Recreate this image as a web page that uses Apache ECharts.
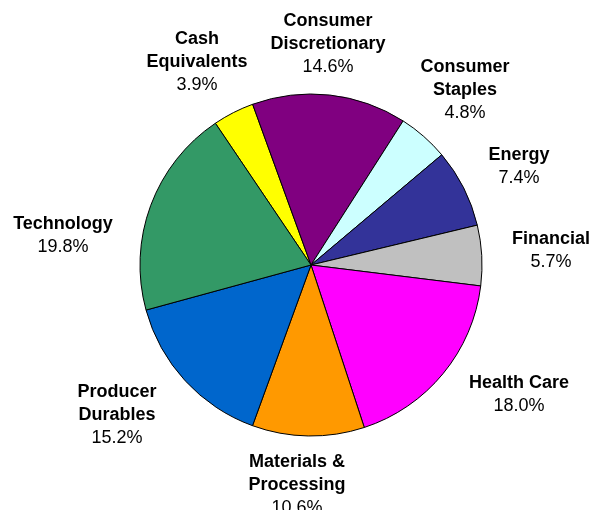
<!DOCTYPE html>
<html>
<head>
<meta charset="utf-8">
<title>Sector Weights</title>
<script src="https://cdn.jsdelivr.net/npm/echarts@6/dist/echarts.min.js"></script>
<style>
  html, body { margin: 0; padding: 0; background: #ffffff; }
  #chart { width: 593px; height: 510px; }
</style>
</head>
<body>
<div id="chart"></div>
<script>
// Sector allocation (percent of portfolio), listed clockwise
const sectors = [
  'Cash\nEquivalents',
  'Consumer\nDiscretionary',
  'Consumer\nStaples',
  'Energy',
  'Financial',
  'Health Care',
  'Materials &\nProcessing',
  'Producer\nDurables',
  'Technology'
];
const weights = [3.9, 14.6, 4.8, 7.4, 5.7, 18.0, 10.6, 15.2, 19.8];
const sliceColors = [
  '#FFFF00', '#800080', '#CCFFFF', '#333399', '#C0C0C0',
  '#FF00FF', '#FF9900', '#0066CC', '#339966'
];
// Label block centres, as offsets from the pie centre
const labelOffset = [
  [-114, -203], [17, -221], [154, -175], [208, -98], [240, -14],
  [208, 130], [-14, 220], [-194, 150], [-248, -29]
];

const pieCenter = [311, 265];
const pieRadius = 171;

const chart = echarts.init(document.getElementById('chart'), null, { renderer: 'canvas' });

chart.setOption({
  backgroundColor: '#ffffff',
  animation: false,
  series: [{
    type: 'pie',
    center: pieCenter,
    radius: pieRadius,
    startAngle: 124,
    clockwise: true,
    avoidLabelOverlap: false,
    silent: true,
    data: sectors.map((name, i) => ({
      name: name,
      value: weights[i],
      itemStyle: { color: sliceColors[i] }
    })),
    itemStyle: { borderColor: '#000000', borderWidth: 1 },
    labelLine: { show: false },
    label: {
      show: true,
      position: 'outside',
      formatter: p => p.name.split('\n').map(s => '{n|' + s + '}').join('\n') +
        '\n{v|' + p.value.toFixed(1) + '%}',
      rich: {
        n: { fontFamily: 'Liberation Sans, Arial, sans-serif', fontSize: 18, fontWeight: 'bold', color: '#000000', lineHeight: 23, align: 'center' },
        v: { fontFamily: 'Liberation Sans, Arial, sans-serif', fontSize: 18, color: '#000000', lineHeight: 23, align: 'center' }
      }
    },
    labelLayout: params => {
      const off = labelOffset[params.dataIndex];
      return {
        x: pieCenter[0] + off[0],
        y: pieCenter[1] + off[1],
        align: 'center',
        verticalAlign: 'middle'
      };
    }
  }]
});
</script>
</body>
</html>
